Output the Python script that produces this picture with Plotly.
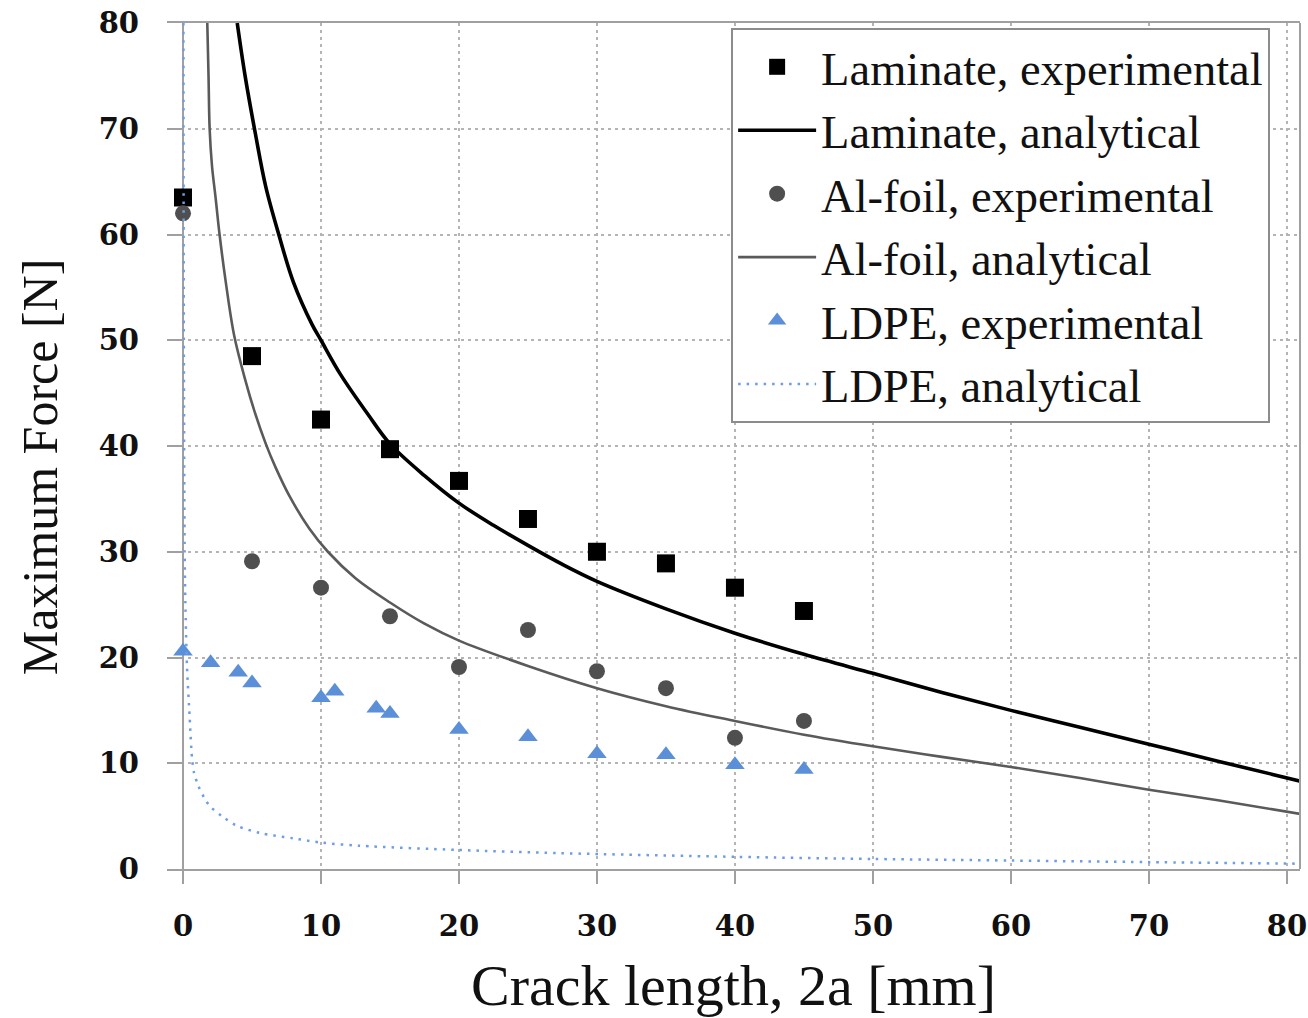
import plotly.graph_objects as go

# ---- data ----
lam_exp_x = [0, 5, 10, 15, 20, 25, 30, 35, 40, 45]
lam_exp_y = [63.5, 48.5, 42.5, 39.7, 36.7, 33.1, 30.0, 28.9, 26.6, 24.4]

al_exp_x = [0, 5, 10, 15, 20, 25, 30, 35, 40, 45]
al_exp_y = [62.0, 29.1, 26.6, 23.9, 19.1, 22.6, 18.7, 17.1, 12.4, 14.0]

ldpe_exp_x = [0, 2, 4, 5, 10, 11, 14, 15, 20, 25, 30, 35, 40, 45]
ldpe_exp_y = [20.6, 19.5, 18.6, 17.6, 16.2, 16.8, 15.2, 14.7, 13.2, 12.5, 10.9, 10.8, 9.85, 9.4]

lam_ana_x = [3.93, 4.5, 5.25, 6.0, 6.94, 8.0, 9.35, 10, 11.4, 13.4, 15, 17.5, 20, 22.5, 25,
             27.5, 30, 35, 40, 45, 50, 55, 60, 65, 70, 75, 81]
lam_ana_y = [80, 75, 69.5, 64.5, 60, 55.5, 51.5, 50, 46.8, 43.0, 40.2, 37.2, 34.6, 32.5, 30.6,
             28.8, 27.2, 24.6, 22.3, 20.3, 18.5, 16.7, 15.0, 13.4, 11.8, 10.2, 8.3]

al_ana_x = [1.76, 1.85, 1.93, 2.1, 2.36, 2.65, 3.1, 3.7, 4.5, 5.2, 6.0, 6.7, 7.7, 9.15, 10.5,
            12.5, 15, 17.5, 20, 25, 30, 35, 40, 45, 50, 55, 60, 65, 70, 75, 81]
al_ana_y = [80, 75, 70, 66.5, 63.5, 60, 55.5, 50.5, 46.3, 43.2, 40.2, 38.0, 35.3, 32.2, 30.0,
            27.5, 25.2, 23.2, 21.6, 19.2, 17.1, 15.4, 14.0, 12.7, 11.6, 10.6, 9.65, 8.6, 7.5, 6.5, 5.2]

ldpe_ana_x = [0.03, 0.06, 0.12, 0.17, 0.29, 0.48, 0.65, 0.8, 1.13, 1.6, 1.98, 2.82, 3.9,
              5.6, 8.0, 10, 12.8, 20, 27.3, 40, 50, 60, 70, 81]
ldpe_ana_y = [80, 50, 30, 25.3, 19.1, 14.4, 10.5, 9.1, 7.8, 6.6, 5.9, 5.0, 4.1,
              3.4, 2.9, 2.5, 2.2, 1.8, 1.5, 1.15, 0.95, 0.8, 0.65, 0.5]

x_ticks = [0, 10, 20, 30, 40, 50, 60, 70, 80]
y_ticks = [0, 10, 20, 30, 40, 50, 60, 70, 80]

SERIF = "Liberation Serif"
TICKFONT = "DejaVu Serif"
GRID = "#b4b4b4"
AXIS = "#a0a0a0"

fig = go.Figure()

fig.add_trace(go.Scatter(
    x=lam_exp_x, y=lam_exp_y, mode="markers", name="Laminate, experimental",
    marker=dict(symbol="square", size=18, color="#000000")))
fig.add_trace(go.Scatter(
    x=lam_ana_x, y=lam_ana_y, mode="lines", name="Laminate, analytical",
    line=dict(color="#000000", width=3.6, shape="spline", smoothing=1.0)))
fig.add_trace(go.Scatter(
    x=al_exp_x, y=al_exp_y, mode="markers", name="Al-foil, experimental",
    marker=dict(symbol="circle", size=16, color="#4f4f4f")))
fig.add_trace(go.Scatter(
    x=al_ana_x, y=al_ana_y, mode="lines", name="Al-foil, analytical",
    line=dict(color="#5a5a5a", width=2.6, shape="spline", smoothing=1.0)))
fig.add_trace(go.Scatter(
    x=ldpe_exp_x, y=ldpe_exp_y, mode="markers", name="LDPE, experimental",
    marker=dict(symbol="triangle-up", size=17, color="#5b8fd8")))
fig.add_trace(go.Scatter(
    x=ldpe_ana_x, y=ldpe_ana_y, mode="lines", name="LDPE, analytical",
    line=dict(color="#6d9de2", width=2.5, dash="2.5px,6px", shape="spline", smoothing=0.8)))

fig.update_layout(
    width=1308, height=1018,
    margin=dict(l=167, r=8, t=23, b=149, autoexpand=False),
    paper_bgcolor="white", plot_bgcolor="white",
    font=dict(family=SERIF, color="#111111"),
    showlegend=True,
    legend=dict(
        x=0.4979, y=0.994, xanchor="left", yanchor="top",
        bgcolor="white", bordercolor="#8c8c8c", borderwidth=2,
        itemwidth=78,
        font=dict(family=SERIF, size=46.5, color="#111111"),
    ),
    annotations=[dict(
        text="Maximum Force [N]", textangle=-90,
        xref="paper", yref="paper", x=-0.112, y=0.475,
        xanchor="center", yanchor="middle", showarrow=False,
        font=dict(family=SERIF, size=50, color="#111111"),
    )],
    shapes=[dict(type="line", xref="paper", yref="paper",
                 x0=1, x1=1, y0=0, y1=1, line=dict(color=AXIS, width=2))],
)

fig.update_xaxes(
    automargin=False,
    range=[-1.16, 80.95], tickvals=x_ticks, ticktext=[str(v) for v in x_ticks],
    showgrid=True, gridcolor=GRID, gridwidth=1.5, griddash="3px,4px",
    zeroline=True, zerolinecolor=AXIS, zerolinewidth=2,
    showline=True, linecolor=AXIS, linewidth=2, mirror=True,
    ticks="outside", ticklen=13, tickwidth=2, tickcolor=AXIS,
    tickfont=dict(family=TICKFONT, size=29, weight="bold", color="#111111"),
    ticklabelstandoff=17,
    title=dict(text="Crack length, 2a [mm]",
               font=dict(family=SERIF, size=58, color="#111111"), standoff=26),
)
fig.update_yaxes(
    automargin=False,
    range=[0, 80], tickvals=y_ticks, ticktext=[str(v) for v in y_ticks],
    showgrid=True, gridcolor=GRID, gridwidth=1.5, griddash="3px,4px",
    zeroline=False, showline=False,
    ticks="inside", ticklen=16, tickwidth=2, tickcolor=AXIS,
    tickfont=dict(family=TICKFONT, size=29, weight="bold", color="#111111"),
    ticklabelstandoff=27,
)

fig.write_html("out.html")
